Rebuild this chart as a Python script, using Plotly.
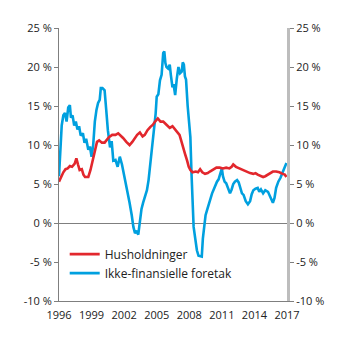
import plotly.graph_objects as go

# Ikke-finansielle foretak (blue)
blue_x = [1996.0, 1996.1, 1996.25, 1996.4, 1996.55, 1996.7, 1996.85, 1997.0, 1997.1, 1997.25, 1997.4, 1997.55,
          1997.7, 1997.85, 1998.0, 1998.2, 1998.35, 1998.5, 1998.7, 1998.85, 1999.0, 1999.15, 1999.3, 1999.45,
          1999.6, 1999.75, 1999.85, 2000.0, 2000.2, 2000.35, 2000.5, 2000.7, 2000.85, 2001.0, 2001.2, 2001.4,
          2001.6, 2001.8, 2002.0, 2002.15, 2002.3, 2002.5, 2002.7, 2002.85, 2003.0, 2003.15, 2003.3, 2003.45,
          2003.6, 2003.75, 2003.9, 2004.1, 2004.25, 2004.4, 2004.55, 2004.7, 2004.8, 2004.9, 2005.0, 2005.15,
          2005.3, 2005.45, 2005.6, 2005.7, 2005.8, 2005.9, 2006.05, 2006.2, 2006.3, 2006.45, 2006.55, 2006.7,
          2006.85, 2007.0, 2007.15, 2007.3, 2007.4, 2007.5, 2007.6, 2007.7, 2007.85, 2008.0, 2008.1, 2008.2,
          2008.3, 2008.4, 2008.55, 2008.7, 2008.85, 2009.0, 2009.15, 2009.25, 2009.35, 2009.5, 2009.65, 2009.8,
          2009.95, 2010.1, 2010.25, 2010.4, 2010.55, 2010.7, 2010.85, 2011.0, 2011.1, 2011.25, 2011.4, 2011.55,
          2011.75, 2011.9, 2012.05, 2012.2, 2012.4, 2012.55, 2012.7, 2012.85, 2013.0, 2013.2, 2013.4, 2013.6,
          2013.75, 2013.9, 2014.1, 2014.3, 2014.45, 2014.6, 2014.8, 2015.0, 2015.25, 2015.4, 2015.55, 2015.7,
          2015.85, 2016.0, 2016.2, 2016.4, 2016.6, 2016.8, 2016.95]
blue_y = [6.0, 9.5, 12.5, 13.8, 14.1, 13.0, 14.8, 15.1, 13.5, 13.8, 12.5, 13.0,
          12.0, 12.4, 11.2, 11.5, 10.3, 10.8, 9.4, 9.8, 8.5, 10.0, 13.0, 14.5,
          15.4, 15.8, 17.3, 17.3, 17.0, 14.5, 11.9, 9.7, 10.5, 8.0, 8.1, 7.2,
          8.5, 7.5, 6.2, 5.2, 4.0, 2.6, 1.0, -0.5, -1.3, -1.0, -1.5, 0.2,
          1.8, 2.6, 3.4, 4.2, 5.5, 7.5, 9.0, 11.0, 13.2, 14.0, 16.2, 16.5,
          18.3, 19.0, 21.8, 22.0, 20.5, 20.0, 19.8, 20.3, 19.0, 17.4, 17.8, 16.4,
          18.5, 20.0, 19.2, 19.4, 20.6, 20.3, 18.8, 18.4, 15.0, 13.0, 11.0, 6.5,
          2.0, -0.5, -2.0, -3.5, -4.2, -4.3, -4.3, -2.0, -0.5, 1.0, 1.7, 2.5,
          3.0, 3.8, 4.3, 4.9, 5.3, 5.6, 6.2, 7.0, 6.0, 5.3, 5.1, 4.5,
          3.8, 4.3, 5.0, 5.3, 5.5, 5.2, 4.3, 3.8, 3.6, 2.8, 2.4, 2.8,
          3.7, 4.2, 4.4, 4.5, 4.0, 4.3, 3.8, 4.2, 4.0, 3.5, 3.2, 2.6,
          3.2, 4.5, 5.3, 5.8, 6.5, 7.2, 7.7]

# Husholdninger (red)
red_x = [1996.0, 1996.2, 1996.4, 1996.6, 1996.8, 1997.0, 1997.2, 1997.45, 1997.6, 1997.75, 1997.9, 1998.1,
         1998.25, 1998.4, 1998.7, 1998.9, 1999.1, 1999.3, 1999.5, 1999.7, 1999.95, 2000.2, 2000.4, 2000.6,
         2000.9, 2001.2, 2001.45, 2001.7, 2001.9, 2002.2, 2002.5, 2002.75, 2003.0, 2003.2, 2003.45, 2003.7,
         2003.9, 2004.15, 2004.4, 2004.65, 2004.85, 2005.1, 2005.35, 2005.6, 2005.9, 2006.2, 2006.45, 2006.7,
         2006.9, 2007.1, 2007.25, 2007.4, 2007.6, 2007.8, 2007.95, 2008.1, 2008.3, 2008.6, 2008.8, 2009.0,
         2009.2, 2009.45, 2009.7, 2009.9, 2010.2, 2010.5, 2010.8, 2011.1, 2011.4, 2011.7, 2011.9, 2012.05,
         2012.3, 2012.6, 2012.9, 2013.1, 2013.3, 2013.6, 2013.9, 2014.1, 2014.3, 2014.55, 2014.8, 2015.0,
         2015.2, 2015.4, 2015.7, 2016.0, 2016.3, 2016.6, 2016.8, 2016.95]
red_y = [5.3, 6.0, 6.5, 6.9, 7.0, 7.3, 7.2, 7.6, 8.3, 7.5, 6.8, 6.9,
         6.2, 5.9, 5.9, 6.8, 8.1, 9.2, 10.4, 10.6, 10.3, 10.3, 10.6, 11.0,
         11.3, 11.3, 11.5, 11.2, 10.9, 10.4, 10.0, 10.4, 10.9, 11.3, 11.6, 11.1,
         11.3, 11.9, 12.3, 12.6, 13.0, 13.4, 13.0, 13.0, 12.6, 12.2, 12.4, 12.0,
         11.6, 11.3, 10.6, 9.7, 8.9, 8.0, 7.2, 6.8, 6.5, 6.6, 6.5, 6.9,
         6.5, 6.3, 6.4, 6.6, 6.9, 7.1, 7.1, 7.0, 7.1, 7.0, 7.2, 7.5,
         7.2, 7.0, 6.8, 6.7, 6.5, 6.4, 6.3, 6.4, 6.2, 6.0, 5.9, 6.0,
         6.2, 6.4, 6.6, 6.6, 6.5, 6.3, 6.2, 5.9]

x_ticks = [1996, 1999, 2002, 2005, 2008, 2011, 2014, 2017]
x_labels = ["1996", "1999", "2002", "2005", "2008", "2011", "2014", "2017"]
y_ticks = [-10, -5, 0, 5, 10, 15, 20, 25]
y_labels = ["-10 %", "-5 %", "0 %", "5 %", "10 %", "15 %", "20 %", "25 %"]

RED = "#e2272d"
BLUE = "#00a0df"
FONT = "Open Sans"

fig = go.Figure()
fig.add_trace(go.Scatter(x=blue_x, y=blue_y, mode="lines", name="Ikke-finansielle foretak",
                         line=dict(color=BLUE, width=2.6), legendrank=2))
fig.add_trace(go.Scatter(x=red_x, y=red_y, mode="lines", name="Husholdninger",
                         line=dict(color=RED, width=2.6), legendrank=1))
fig.add_trace(go.Scatter(x=[x_ticks[0]], y=[y_ticks[0]], yaxis="y2", mode="lines",
                         showlegend=False, hoverinfo="skip", line=dict(width=0)))

fig.update_layout(
    width=346, height=341,
    margin=dict(l=59, r=59, t=28, b=40),
    paper_bgcolor="white", plot_bgcolor="white",
    font=dict(family=FONT, size=11, color="#222222"),
    showlegend=True,
    legend=dict(x=0.025, y=0.225, xanchor="left", yanchor="top",
                bgcolor="rgba(0,0,0,0)", font=dict(size=12, color="#222222"),
                itemwidth=30),
    xaxis=dict(range=[1996, 2017], tickvals=x_ticks, ticktext=x_labels,
               showgrid=False, zeroline=False, showline=True, linecolor="#7f7f7f", linewidth=1,
               ticks="outside", ticklen=4, tickcolor="rgba(0,0,0,0)", tickfont=dict(size=11), fixedrange=True),
    yaxis=dict(range=[-10, 25], tickvals=y_ticks, ticktext=y_labels,
               showgrid=False, zeroline=True, zerolinecolor="#7f7f7f", zerolinewidth=1,
               showline=True, linecolor="#7f7f7f", linewidth=1,
               ticks="outside", ticklen=4, tickcolor="#7f7f7f", tickfont=dict(size=11)),
    yaxis2=dict(range=[-10, 25], tickvals=y_ticks, ticktext=y_labels, overlaying="y", side="right",
                showgrid=False, zeroline=False, showline=True, linecolor="#bdbdbd", linewidth=3,
                ticks="outside", ticklen=4, tickcolor="#7f7f7f", tickfont=dict(size=11)),
)

fig.write_html("out.html")
